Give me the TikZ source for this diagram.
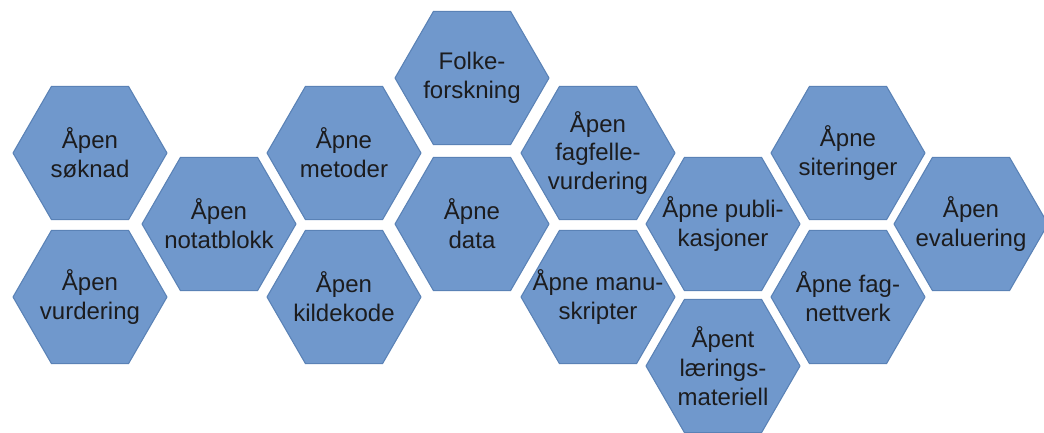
\documentclass[tikz,border=0pt]{standalone}
\usepackage{fontspec}
\setmainfont{Liberation Sans}
\usetikzlibrary{positioning}
\definecolor{ink}{HTML}{1C1C1E}
\definecolor{cellblue}{HTML}{7098CC}
\definecolor{celledge}{HTML}{5A82B6}
\tikzset{
  hexcell/.style={fill=cellblue,draw=celledge,line width=0.8pt,line join=round},
  celltext/.style={align=center,inner sep=0pt,text=ink,font=\fontsize{18}{21.6}\selectfont}
}
\begin{document}
\begin{tikzpicture}[x=0.75pt,y=-0.75pt]
        \useasboundingbox (0,0) rectangle (1044,432);
        \foreach \cx/\cy/\cname/\ctext in {
            90/153/soknad/{Åpen\\søknad},
            90/297/vurdering/{Åpen\\vurdering},
            219/224/notatblokk/{Åpen\\notatblokk},
            344/153/metoder/{Åpne\\metoder},
            344/297/kildekode/{Åpen\\kildekode},
            472/78/folke/{Folke-\\forskning},
            472/224/data/{Åpne\\data},
            598/153/fagfelle/{Åpen\\fagfelle-\\vurdering},
            598/297/manus/{Åpne manu-\\skripter},
            723/224/publ/{Åpne publi-\\kasjoner},
            723/366/laering/{Åpent\\lærings-\\materiell},
            848/153/siter/{Åpne\\siteringer},
            848/297/fagnett/{Åpne fag-\\nettverk},
            971/224/evaluering/{Åpen\\evaluering}} {
          \draw[hexcell] (\cx,\cy) +(0:77) -- +(60:77) -- +(120:77) -- +(180:77)
            -- +(240:77) -- +(300:77) -- cycle;
          \node[celltext] (\cname) at (\cx,\cy) {\ctext};
        }
      \end{tikzpicture}
\end{document}
